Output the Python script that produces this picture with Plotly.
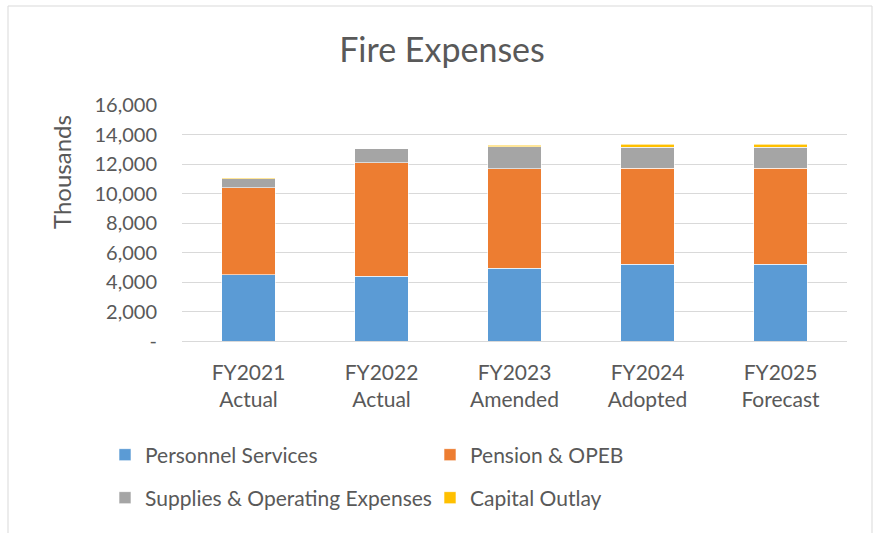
import plotly.graph_objects as go

categories = ["FY2021<br>Actual", "FY2022<br>Actual", "FY2023<br>Amended", "FY2024<br>Adopted", "FY2025<br>Forecast"]
personnel = [4475, 4385, 4930, 5200, 5200]
pension = [5915, 7685, 6750, 6510, 6510]
supplies = [610, 950, 1490, 1420, 1420]
capital = [30, 30, 110, 200, 200]
tick_vals = [0, 2000, 4000, 6000, 8000, 10000, 12000, 14000, 16000]
tick_text = ["-", "2,000", "4,000", "6,000", "8,000", "10,000", "12,000", "14,000", "16,000"]

FONT = "Lato"
TXT = "#595959"

series = [
    ("Personnel Services", personnel, "#5B9BD5", "legend"),
    ("Pension & OPEB", pension, "#ED7D31", "legend"),
    ("Supplies & Operating Expenses", supplies, "#A5A5A5", "legend2"),
    ("Capital Outlay", capital, "#FFC000", "legend2"),
]

fig = go.Figure()
for name, vals, color, lg in series:
    fig.add_trace(go.Bar(
        x=categories, y=vals, name=name, legend=lg,
        marker=dict(color=color, line=dict(color="rgba(255,255,255,0.6)", width=1)),
    ))

W, H = 880, 533
L, R, T, B = 182, 33, 105, 192
pw, ph = W - L - R, H - T - B

def px_x(p):
    return (p - L) / pw

def px_y(p):
    return (H - B - p) / ph

legend_common = dict(
    orientation="h", font=dict(family=FONT, size=21, color=TXT),
    entrywidth=280, entrywidthmode="pixels", itemwidth=30, traceorder="normal",
    xanchor="left", yanchor="middle", bgcolor="rgba(0,0,0,0)",
    itemclick=False, itemdoubleclick=False,
)

fig.update_layout(
    width=W, height=H,
    margin=dict(l=L, r=R, t=T, b=B),
    paper_bgcolor="white", plot_bgcolor="white",
    barmode="stack", bargap=0.6,
    title=dict(text="Fire Expenses", x=442 / W, xref="container", xanchor="center",
               y=1 - 50 / H, yref="container", yanchor="middle",
               font=dict(family=FONT, size=34, color=TXT)),
    font=dict(family=FONT, color=TXT),
    legend=dict(x=px_x(105), y=px_y(455), **legend_common),
    legend2=dict(x=px_x(105), y=px_y(498), **legend_common),
    xaxis=dict(showgrid=False, showline=False, ticks="", ticklabelstandoff=17,
               tickfont=dict(family=FONT, size=21, color=TXT)),
    yaxis=dict(range=[0, 16000], tickvals=tick_vals, ticktext=tick_text,
               showgrid=True, gridcolor="#D9D9D9", gridwidth=1,
               zeroline=True, zerolinecolor="#D9D9D9", zerolinewidth=1,
               showline=False, ticks="", ticklabelstandoff=24,
               tickfont=dict(family=FONT, size=20, color=TXT)),
    annotations=[dict(text="Thousands", textangle=-90, xref="paper", yref="paper",
                      x=px_x(61), y=px_y(172), showarrow=False,
                      xanchor="center", yanchor="middle",
                      font=dict(family=FONT, size=24, color=TXT))],
    shapes=[dict(type="rect", xref="paper", yref="paper",
                 x0=px_x(8), x1=px_x(872), y0=px_y(545), y1=px_y(6),
                 line=dict(color="#D9D9D9", width=1), fillcolor="rgba(0,0,0,0)", layer="below")],
)

fig.write_html("out.html", config={"displayModeBar": False},
               post_script="document.body.style.margin='0';")
